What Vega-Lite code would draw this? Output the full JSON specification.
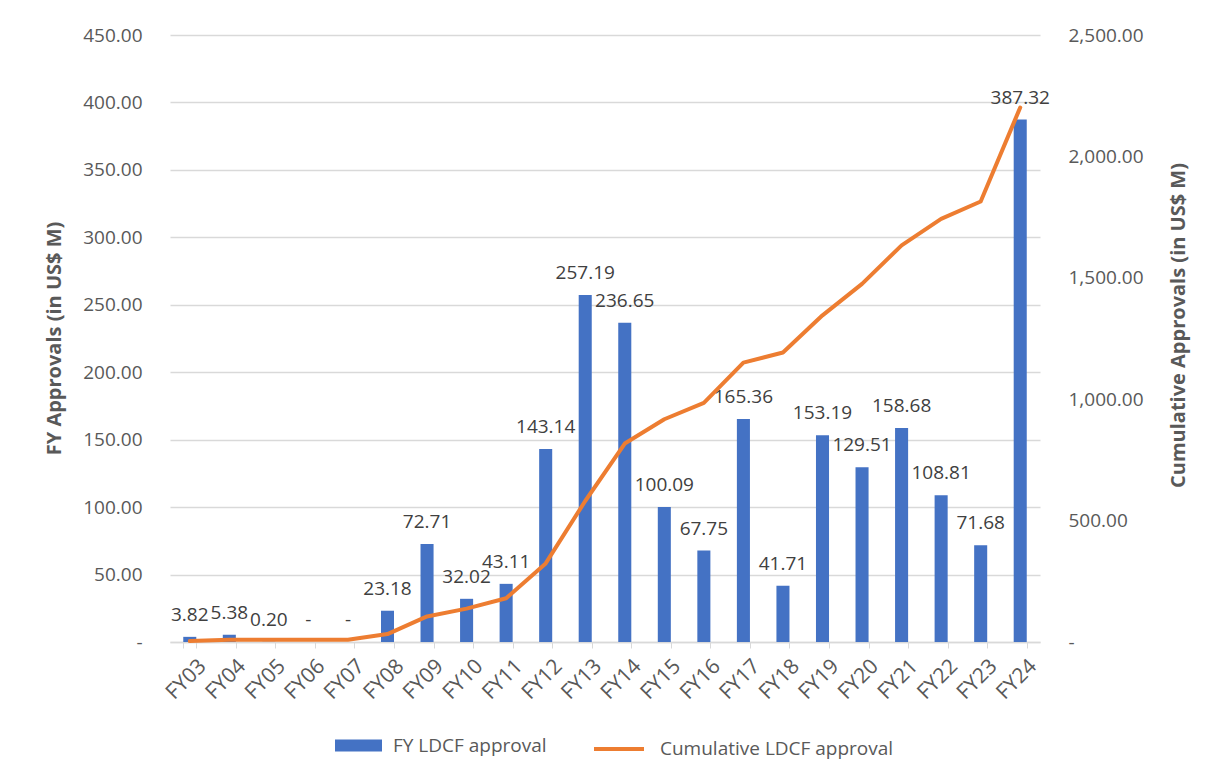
{
  "$schema": "https://vega.github.io/schema/vega-lite/v6.json",
  "width": 870,
  "height": 607,
  "autosize": {"type": "none"},
  "padding": {"left": 170, "top": 35, "right": 180, "bottom": 142},
  "background": "white",
  "config": {
    "view": {"stroke": null},
    "font": "Open Sans",
    "axis": {
      "labelFont": "Open Sans",
      "labelFontSize": 19,
      "labelColor": "#595959",
      "titleFont": "Open Sans",
      "titleFontSize": 20,
      "titleFontWeight": "bold",
      "titleColor": "#595959"
    },
    "legend": {
      "labelFont": "Open Sans",
      "labelFontSize": 19,
      "labelColor": "#595959",
      "labelLimit": 500
    }
  },
  "data": {
    "values": [
      {"fy": "FY03", "annual": 3.82, "cumulative": 3.82},
      {"fy": "FY04", "annual": 5.38, "cumulative": 9.2},
      {"fy": "FY05", "annual": 0.2, "cumulative": 9.4},
      {"fy": "FY06", "annual": 0, "cumulative": 9.4},
      {"fy": "FY07", "annual": 0, "cumulative": 9.4},
      {"fy": "FY08", "annual": 23.18, "cumulative": 32.58},
      {"fy": "FY09", "annual": 72.71, "cumulative": 105.29},
      {"fy": "FY10", "annual": 32.02, "cumulative": 137.31},
      {"fy": "FY11", "annual": 43.11, "cumulative": 180.42},
      {"fy": "FY12", "annual": 143.14, "cumulative": 323.56},
      {"fy": "FY13", "annual": 257.19, "cumulative": 580.75},
      {"fy": "FY14", "annual": 236.65, "cumulative": 817.4},
      {"fy": "FY15", "annual": 100.09, "cumulative": 917.49},
      {"fy": "FY16", "annual": 67.75, "cumulative": 985.24},
      {"fy": "FY17", "annual": 165.36, "cumulative": 1150.6},
      {"fy": "FY18", "annual": 41.71, "cumulative": 1192.31},
      {"fy": "FY19", "annual": 153.19, "cumulative": 1345.5},
      {"fy": "FY20", "annual": 129.51, "cumulative": 1475.01},
      {"fy": "FY21", "annual": 158.68, "cumulative": 1633.69},
      {"fy": "FY22", "annual": 108.81, "cumulative": 1742.5},
      {"fy": "FY23", "annual": 71.68, "cumulative": 1814.18},
      {"fy": "FY24", "annual": 387.32, "cumulative": 2201.5}
    ]
  },
  "encoding": {
    "x": {
      "field": "fy",
      "type": "ordinal",
      "sort": null,
      "scale": {"paddingInner": 0.67, "paddingOuter": 0.335},
      "axis": {
        "title": null,
        "labelAngle": -45,
        "labelAlign": "right",
        "labelBaseline": "top",
        "labelFontSize": 21,
        "labelPadding": 7,
        "labelOffset": 5,
        "tickBand": "extent",
        "tickColor": "#d9d9d9",
        "tickSize": 6,
        "domainColor": "#d9d9d9",
        "domainWidth": 1.5,
        "grid": false
      }
    }
  },
  "layer": [
    {
      "mark": {"type": "bar", "color": "#4472C4"},
      "encoding": {
        "y": {
          "field": "annual",
          "type": "quantitative",
          "scale": {"domain": [0, 450], "nice": false},
          "axis": {
            "title": "FY Approvals (in US$ M)",
            "orient": "left",
            "values": [0, 50, 100, 150, 200, 250, 300, 350, 400, 450],
            "format": ",.2f",
            "labelExpr": "datum.value == 0 ? '-' : datum.label",
            "ticks": false,
            "tickSize": 0,
            "labelPadding": 28,
            "domain": false,
            "grid": true,
            "gridColor": "#d9d9d9",
            "gridWidth": 1.5,
            "titleX": -116,
            "titleY": 303,
            "titleAngle": -90,
            "titleBaseline": "middle",
            "titleAlign": "center"
          }
        },
        "fill": {
          "datum": "FY LDCF approval",
          "type": "nominal",
          "scale": {"range": ["#4472C4"]},
          "legend": {
            "title": null,
            "orient": "none",
            "legendX": 165,
            "legendY": 687,
            "symbolType": "M-1,-0.26L1,-0.26L1,0.26L-1,0.26Z",
            "symbolSize": 2209,
            "symbolStrokeWidth": 0,
            "labelOffset": 11
          }
        }
      }
    },
    {
      "transform": [
        {"calculate": "datum.annual == 0 ? '-' : format(datum.annual, ',.2f')", "as": "label"}
      ],
      "mark": {"type": "text", "fontSize": 19, "color": "#404040", "baseline": "alphabetic", "dy": -16, "font": "Open Sans"},
      "encoding": {
        "y": {"field": "annual", "type": "quantitative", "scale": {"domain": [0, 450], "nice": false}, "axis": null},
        "text": {"field": "label"}
      }
    },
    {
      "mark": {"type": "line", "color": "#ED7D31", "strokeWidth": 4, "strokeCap": "round", "strokeJoin": "round"},
      "encoding": {
        "y": {
          "field": "cumulative",
          "type": "quantitative",
          "scale": {"domain": [0, 2500], "nice": false},
          "axis": {
            "title": "Cumulative Approvals (in US$ M)",
            "orient": "right",
            "values": [0, 500, 1000, 1500, 2000, 2500],
            "format": ",.2f",
            "labelExpr": "datum.value == 0 ? '-' : datum.label",
            "ticks": false,
            "tickSize": 0,
            "labelPadding": 28,
            "domain": false,
            "grid": false,
            "titleX": 138,
            "titleY": 290,
            "titleAngle": -90,
            "titleBaseline": "middle",
            "titleAlign": "center"
          }
        },
        "stroke": {
          "datum": "Cumulative LDCF approval",
          "type": "nominal",
          "scale": {"range": ["#ED7D31"]},
          "legend": {
            "title": null,
            "orient": "none",
            "legendX": 422,
            "legendY": 687,
            "symbolType": "stroke",
            "symbolSize": 2500,
            "symbolStrokeWidth": 4,
            "labelOffset": 14
          }
        }
      }
    }
  ],
  "resolve": {"scale": {"y": "independent", "fill": "independent", "stroke": "independent"}}
}
